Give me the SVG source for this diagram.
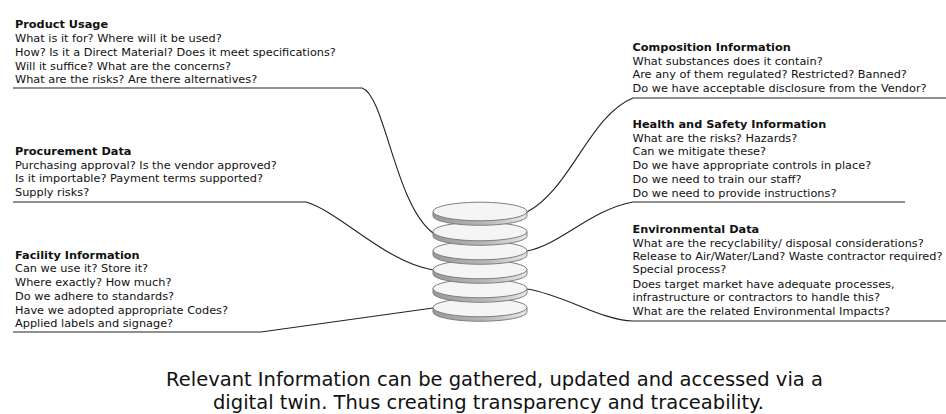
<svg xmlns="http://www.w3.org/2000/svg" width="946" height="414" viewBox="0 0 946 414">
<style>
text{font-family:"DejaVu Sans",sans-serif;font-size:11.3px;fill:#111}
.h{font-weight:bold}
.c{font-size:19.5px;text-anchor:middle}
.l{fill:none;stroke:#222;stroke-width:1.1}
.t{fill:#f5f5f5;stroke:#808080;stroke-width:1}
.b{fill:url(#g);stroke:#808080;stroke-width:1}
</style>
<defs>
<linearGradient id="g" x1="0" x2="1" y1="0" y2="0"><stop offset="0" stop-color="#999"/><stop offset=".6" stop-color="#bbb"/><stop offset="1" stop-color="#e8e8e8"/></linearGradient>
<g id="disk"><path class="b" d="M-47 0V4.5A47 9.3 0 0 0 47 4.5V0Z"/><ellipse class="t" rx="47" ry="9.3"/></g>
</defs>
<rect width="946" height="414" fill="#fff"/>
<g id="connectors">
<path class="l" d="M13 88H362C385 95 395 205 433 233"/>
<path class="l" d="M13 202H306C340 212 385 262 433 270"/>
<path class="l" d="M13 332H261L433 308"/>
<path class="l" d="M527 212C570 190 590 115 633 98H946"/>
<path class="l" d="M527 251C560 245 590 210 633 202H905"/>
<path class="l" d="M527 289C565 295 600 320 633 321H946"/>
</g>
<g id="database">
<use href="#disk" x="480" y="307.5"/>
<use href="#disk" x="480" y="288.5"/>
<use href="#disk" x="480" y="269.5"/>
<use href="#disk" x="480" y="250.5"/>
<use href="#disk" x="480" y="231.5"/>
<use href="#disk" x="480" y="211.5"/>
</g>
<g id="product-usage">
<text class="h" x="15" y="28">Product Usage</text>
<text x="15" y="42">What is it for? Where will it be used?</text>
<text x="15" y="56">How? Is it a Direct Material? Does it meet specifications?</text>
<text x="15" y="70">Will it suffice? What are the concerns?</text>
<text x="15" y="83">What are the risks? Are there alternatives?</text>
</g>
<g id="procurement-data">
<text class="h" x="15" y="155">Procurement Data</text>
<text x="15" y="169">Purchasing approval? Is the vendor approved?</text>
<text x="15" y="182">Is it importable? Payment terms supported?</text>
<text x="15" y="196">Supply risks?</text>
</g>
<g id="facility-information">
<text class="h" x="15" y="259">Facility Information</text>
<text x="15" y="272">Can we use it? Store it?</text>
<text x="15" y="286">Where exactly? How much?</text>
<text x="15" y="300">Do we adhere to standards?</text>
<text x="15" y="314">Have we adopted appropriate Codes?</text>
<text x="15" y="327">Applied labels and signage?</text>
</g>
<g id="composition-information">
<text class="h" x="632.5" y="51">Composition Information</text>
<text x="632.5" y="65">What substances does it contain?</text>
<text x="632.5" y="78">Are any of them regulated? Restricted? Banned?</text>
<text x="632.5" y="92">Do we have acceptable disclosure from the Vendor?</text>
</g>
<g id="health-safety">
<text class="h" x="632.5" y="128">Health and Safety Information</text>
<text x="632.5" y="142">What are the risks? Hazards?</text>
<text x="632.5" y="155">Can we mitigate these?</text>
<text x="632.5" y="169">Do we have appropriate controls in place?</text>
<text x="632.5" y="183">Do we need to train our staff?</text>
<text x="632.5" y="197">Do we need to provide instructions?</text>
</g>
<g id="environmental-data">
<text class="h" x="632.5" y="232.5">Environmental Data</text>
<text x="632.5" y="247">What are the recyclability/ disposal considerations?</text>
<text x="632.5" y="260">Release to Air/Water/Land? Waste contractor required?</text>
<text x="632.5" y="273">Special process?</text>
<text x="632.5" y="288">Does target market have adequate processes,</text>
<text x="632.5" y="301">infrastructure or contractors to handle this?</text>
<text x="632.5" y="315">What are the related Environmental Impacts?</text>
</g>
<g id="caption">
<text class="c" x="494.5" y="385.5">Relevant Information can be gathered, updated and accessed via a</text>
<text class="c" x="488.5" y="408.5">digital twin. Thus creating transparency and traceability.</text>
</g>
</svg>
